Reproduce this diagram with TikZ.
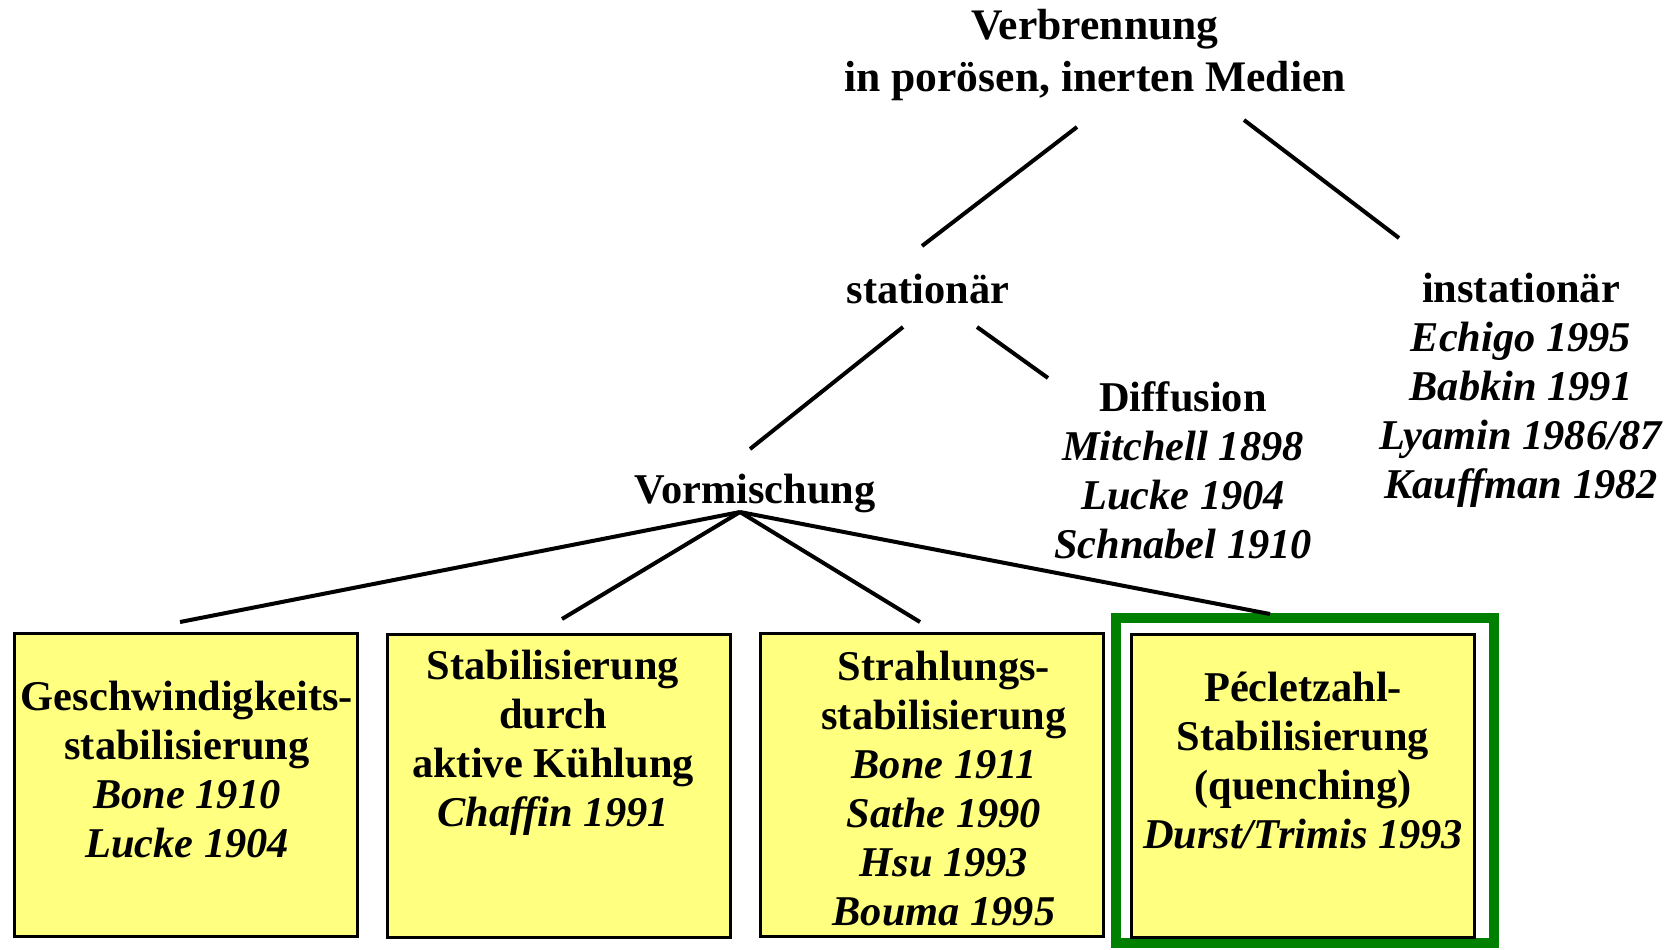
\documentclass[tikz,border=0pt]{standalone}
\usepackage{fontspec}
\setmainfont{Liberation Serif}
\usepackage{tikz,xcolor}
\usetikzlibrary{calc}
\definecolor{lyellow}{RGB}{255,255,128}
\definecolor{dgreen}{RGB}{0,128,0}
\tikzset
{
    % Style for the texts of the tree, anchored at the top of the first line
    tree label/.style=
    {
        align=center,
        inner sep=0pt,
        anchor=north,
        font=\fontsize{21.2}{24.5}\selectfont\bfseries,
        execute at begin node=\strut
    },
    % Style for the title on top, a bit larger
    title label/.style=
    {
        tree label,
        font=\fontsize{21.8}{26}\selectfont\bfseries
    },
    % Style for the yellow boxes of the lowest level
    card/.style=
    {
        draw=black,
        fill=lyellow,
        line width=1.5pt,
        minimum width=171.5pt,
        minimum height=151.5pt,
        inner sep=0pt
    },
    % Style for the green frame round the own work
    highlight frame/.style=
    {
        draw=dgreen,
        line width=5pt,
        minimum width=189pt,
        minimum height=162.5pt,
        inner sep=0pt
    },
    % Style for the lines of the tree
    tree line/.style=
    {
        line width=2pt
    }
}

\begin{document}
\begin{tikzpicture}[x=0.5pt,y=-0.5pt]
    % Define the bounding box, one unit is one pixel of the original
    \path [use as bounding box] (0,0) rectangle (1680,949);

    % Upper levels
    \node (title) [title label] at (1095,9) {Verbrennung\\in porösen, inerten Medien};
    \node (stat) [tree label] at (928,269) {stationär};
    \node (instat) [tree label] at (1521,273)
        {instationär\\\textit{Echigo 1995}\\\textit{Babkin 1991}\\\textit{Lyamin 1986/87}\\\textit{Kauffman 1982}};
    \node (diff) [tree label] at (1183,381)
        {Diffusion\\\textit{Mitchell 1898}\\\textit{Lucke 1904}\\\textit{Schnabel 1910}};
    \node (vorm) [tree label] at (755,469) {Vormischung};

    % Boxes
    \node (geschw) [card] at (185.5,784.5) {};
    \node (geschw-t) [tree label] at (187,681)
        {Geschwindigkeits-\\stabilisierung\\\textit{Bone 1910}\\\textit{Lucke 1904}};
    \node (kuehl) [card] at (558.5,786) {};
    \node (kuehl-t) [tree label] at (553,650)
        {Stabilisierung\\durch\\aktive Kühlung\\\textit{Chaffin 1991}};
    \node (strahl) [card] at (932,784.5) {};
    \node (strahl-t) [tree label] at (944,651)
        {Strahlungs-\\stabilisierung\\\textit{Bone 1911}\\\textit{Sathe 1990}\\\textit{Hsu 1993}\\\textit{Bouma 1995}};
    %% The own work gets a green frame
    \node (peclet-frame) [highlight frame] at (1305,780.5) {};
    \node (peclet) [card] at (1303,786) {};
    \node (peclet-t) [tree label] at (1303,672)
        {Pécletzahl-\\Stabilisierung\\(quenching)\\\textit{Durst/Trimis 1993}};

    % Ends of the lines, they stop short of the texts
    \coordinate (title-l) at (1077,127);
    \coordinate (title-r) at (1244,120);
    \coordinate (stat-top) at (922,246);
    \coordinate (instat-top) at (1399,238);
    \coordinate (stat-l) at (903,327);
    \coordinate (stat-r) at (977,327);
    \coordinate (vorm-top) at (750,449);
    \coordinate (diff-top) at (1048,378);
    \coordinate (vorm-foot) at (740,512);
    \coordinate (geschw-top) at (180,622);
    \coordinate (kuehl-top) at (562,619);
    \coordinate (strahl-top) at (920,622);
    \coordinate (peclet-top) at (1270,614);

    % Draw the tree
    \draw[tree line] (title-l) -- (stat-top);
    \draw[tree line] (title-r) -- (instat-top);
    \draw[tree line] (stat-l) -- (vorm-top);
    \draw[tree line] (stat-r) -- (diff-top);
    \foreach \b in {geschw,kuehl,strahl,peclet}
        \draw[tree line] (vorm-foot) -- (\b-top);
\end{tikzpicture}
\end{document}
